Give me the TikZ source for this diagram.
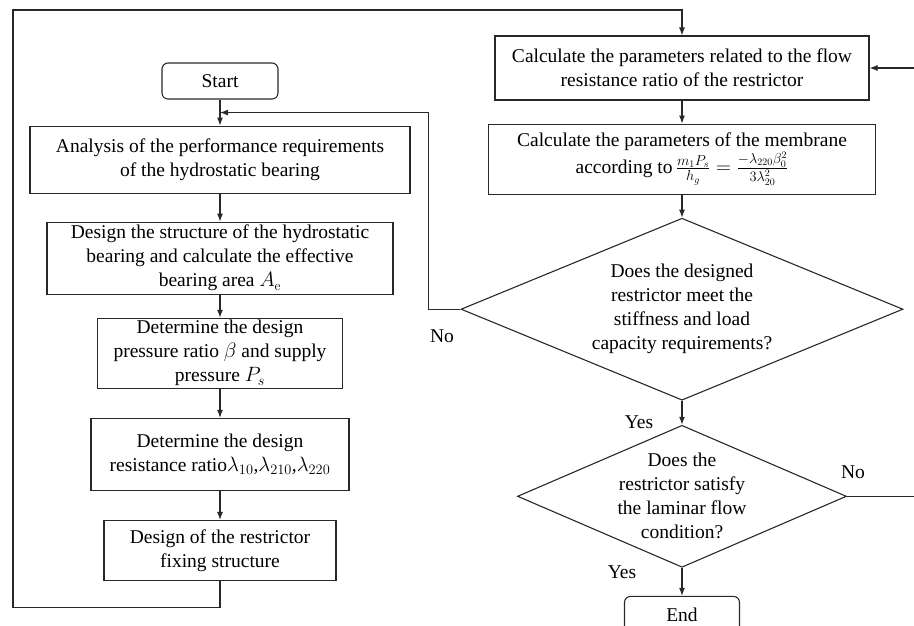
\documentclass[tikz,border=0pt]{standalone}
\usepackage{amsmath}
\usepackage{fontspec}
\newfontfamily\bodyfont{Liberation Serif}
\usepackage{tikz}
\usetikzlibrary{shapes.geometric, arrows.meta, positioning, calc}
\definecolor{ink}{RGB}{40,40,40}

\begin{document}
\begin{tikzpicture}[
    x=1pt, y=-1pt,
    font=\bodyfont\fontsize{19.5}{24}\selectfont,
    box/.style={rectangle, draw=ink, line width=1.1pt, align=center, inner sep=2pt},
    term/.style={box, rounded corners=6pt, minimum width=116pt, minimum height=36pt},
    decision/.style={diamond, draw=ink, line width=1.1pt, align=center, inner sep=-4pt},
    arrow/.style={-{Latex[length=8pt, width=6pt]}, draw=ink, line width=1.1pt},
    lbl/.style={inner sep=0pt}
]
\useasboundingbox (0,0) rectangle (914,625);
\clip (0,0) rectangle (914,625);

% Left column
\node[term] (start) at (220,81) {Start};
\node[box, minimum width=380pt, minimum height=67pt, below=26pt of start] (analysis) {Analysis of the performance requirements\\of the hydrostatic bearing};
\node[box, minimum width=346pt, minimum height=72pt, below=28pt of analysis] (structure) {Design the structure of the hydrostatic\\bearing and calculate the effective\\bearing area $A_{\mathrm{e}}$};
\node[box, minimum width=245pt, minimum height=70pt, below=23pt of structure] (pressure) {Determine the design\\pressure ratio $\beta$ and supply\\pressure $P_s$};
\node[box, minimum width=258pt, minimum height=72pt, below=29pt of pressure] (ratio) {Determine the design\\resistance ratio$\lambda_{10}$,$\lambda_{210}$,$\lambda_{220}$};
\node[box, minimum width=232pt, minimum height=60pt, below=29pt of ratio] (fixing) {Design of the restrictor\\fixing structure};

% Right column
\node[box, minimum width=374pt, minimum height=64pt] (flow) at (682,68) {Calculate the parameters related to the flow\\resistance ratio of the restrictor};
\node[box, minimum width=387pt, minimum height=70pt, below=23pt of flow] (membrane) {Calculate the parameters of the membrane\\according to\,$\frac{m_1P_s}{h_g}=\frac{-\lambda_{220}\beta_0^2}{3\lambda_{20}^2}$};
\node[decision, shape aspect=2.43, minimum width=442pt, minimum height=182pt, below=23pt of membrane] (meet) {Does the designed\\restrictor meet the\\stiffness and load\\capacity requirements?};
\node[decision, shape aspect=2.32, minimum width=329pt, minimum height=142pt, below=24pt of meet] (laminar) {Does the\\restrictor satisfy\\the laminar flow\\condition?};
\node[term, minimum width=115pt, below=28pt of laminar] (end) {End};

% Joints
\coordinate (join) at ($(start.south)!0.5!(analysis.north)$);

% Arrows
\draw[arrow] (start) -- (analysis);
\draw[arrow] (analysis) -- (structure);
\draw[arrow] (structure) -- (pressure);
\draw[arrow] (pressure) -- (ratio);
\draw[arrow] (ratio) -- (fixing);
\draw[arrow] (fixing.south) -- ++(0,26) -| (13,10) -| (flow.north);
\draw[arrow] (flow) -- (membrane);
\draw[arrow] (membrane) -- (meet);
\draw[arrow] (meet) -- (laminar);
\draw[arrow] (laminar) -- (end);
\draw[arrow] (meet.west) -- ++(-32,0) |- (join);
\draw[arrow] (laminar.east) -- ++(90,0) |- (flow.east);

% Labels
\node[lbl] (no1) at (442,336) {No};
\node[lbl] (yes1) at (639,422) {Yes};
\node[lbl] (no2) at (853,472) {No};
\node[lbl] (yes2) at (622,572) {Yes};

\end{tikzpicture}
\end{document}
